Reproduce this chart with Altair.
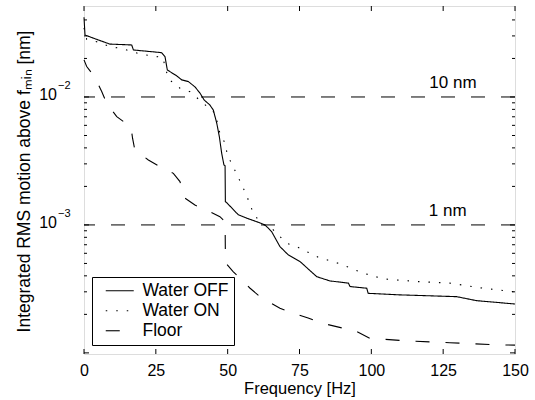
import altair as alt
import pandas as pd

# ---- data ----
off_f = [0, 0.35, 4.4, 9.0, 16.6, 17.2, 27.0, 28.2, 29.0, 32.3, 34.0, 36.3, 38.6, 40.4, 41.8,
         43.8, 45.0, 46.2, 47.1, 47.9, 48.7, 49.1, 49.2, 49.7, 53.7, 56.6, 60.1, 63.0, 65.3,
         68.2, 71.1, 75.2, 81.0, 85.6, 92.0, 92.6, 98.4, 98.9, 110.0, 129.7, 136.6, 150.0]
off_v = [0.0420, 0.0305, 0.0282, 0.0259, 0.0255, 0.0233, 0.0222, 0.0206, 0.01626, 0.0146,
         0.0136, 0.0132, 0.0120, 0.0107, 0.00948, 0.00866, 0.00791, 0.00624, 0.00490, 0.00365,
         0.00294, 0.00290, 0.00152, 0.00149, 0.00120, 0.00113, 0.00106, 0.00100, 0.000887,
         0.000677, 0.000583, 0.000517, 0.000394, 0.000365, 0.000351, 0.000330, 0.000320,
         0.000292, 0.000284, 0.000275, 0.000256, 0.000241]

on_f = [0, 0.94, 5.6, 9.0, 12.8, 19.5, 23.6, 27.4, 29.3, 30.5, 33.4, 36.9, 39.8, 45.6, 47.3,
        49.1, 49.9, 51.6, 53.3, 54.9, 56.6, 57.8, 59.5, 61.9, 65.3, 68.2, 70.5, 74.0, 81.5,
        89.1, 97.2, 104.1, 115.8, 127.3, 138.9, 150.0]
on_v = [0.0346, 0.0282, 0.0266, 0.0247, 0.0240, 0.0217, 0.0209, 0.0204, 0.0140, 0.0132,
        0.0117, 0.0110, 0.00964, 0.00746, 0.00520, 0.00435, 0.00352, 0.00294, 0.00246,
        0.00205, 0.00171, 0.00142, 0.00118, 0.00102, 0.000942, 0.000810, 0.000720,
        0.000676, 0.000560, 0.000496, 0.000420, 0.000379, 0.000361, 0.000351, 0.000320,
        0.000300]

floor_f = [0, 0.94, 3.8, 6.2, 7.9, 11.4, 15.4, 16.4, 16.9, 17.7, 22.4, 26.4, 31.1, 33.4, 35.1,
           38.6, 43.8, 47.3, 49.1, 49.2, 49.4, 51.9, 57.8, 61.2, 68.2, 72.8, 78.0, 82.7, 94.9,
           99.5, 112.3, 127.3, 144.7, 150.0]
floor_v = [0.0195, 0.0173, 0.01425, 0.0110, 0.00893, 0.00702, 0.00604, 0.00573, 0.00476,
           0.00385, 0.00322, 0.00285, 0.00253, 0.00218, 0.00162, 0.00143, 0.00127, 0.00116,
           0.00106, 0.000604, 0.000502, 0.000432, 0.000320, 0.000275, 0.000223, 0.000204,
           0.000187, 0.000171, 0.000147, 0.000130, 0.000124, 0.000120, 0.0001155, 0.000115]

series = ["Water OFF", "Water ON", "Floor"]
ref_values = [0.01, 0.001]
ref_labels = ["10 nm", "1 nm"]
ref_label_f = [128.4, 126.6]
ylab_values = [0.01, 0.001]
ylab_exps = ["\u22122", "\u22123"]
x_ticks = [0, 25, 50, 75, 100, 125, 150]
y_major = [1e-4, 1e-3, 1e-2]
y_minor = [m * 10.0 ** e for e in (-4, -3, -2) for m in range(2, 10) if m * 10.0 ** e < 0.05]

# ---- tables ----
rows = []
for name, fs, vs in [("Water OFF", off_f, off_v), ("Water ON", on_f, on_v), ("Floor", floor_f, floor_v)]:
    for i, (f, v) in enumerate(zip(fs, vs)):
        rows.append({"f": f, "v": v, "s": name, "o": i})
df = pd.DataFrame(rows)
ref_df = pd.DataFrame({"f": ref_label_f, "v": ref_values, "lab": ref_labels})
ylab_df = pd.DataFrame({"v": ylab_values, "e": ylab_exps})
xt_df = pd.DataFrame({"f": x_ticks})
ymaj_df = pd.DataFrame({"v": y_major})
ymin_df = pd.DataFrame({"v": y_minor})

FONT = "Liberation Sans"
W, H = 431, 348
YTITLE = "Integrated RMS motion above f\u2098\u1d62\u2099 [nm]"
XTITLE = "Frequency [Hz]"
xs = alt.Scale(domain=[0, 150], nice=False, zero=False)
ys = alt.Scale(type="log", domain=[0.98e-4, 0.0514], nice=False)

xaxis = alt.Axis(
    title=XTITLE, values=x_ticks, format="d", ticks=False, domain=False, grid=False,
    labelFontSize=16, labelFont=FONT, labelColor="black", labelPadding=8, labelFlush=False,
    titleFontSize=16.5, titleFont=FONT, titleFontWeight="normal", titleColor="black",
    titleY=39, titleBaseline="alphabetic")
yaxis = alt.Axis(
    title=YTITLE, labels=False, ticks=False,
    domain=False, grid=False, titleFontSize=17.5, titleFont=FONT, titleFontWeight="normal",
    titleColor="black", titleX=-55, titleY=175, titleAngle=270, titleAlign="center",
    titleBaseline="alphabetic")

X = lambda: alt.X("f:Q", scale=xs, axis=xaxis, title=XTITLE)
Y = lambda: alt.Y("v:Q", scale=ys, axis=yaxis, title=YTITLE)

lines = alt.Chart(df).mark_line(color="black", strokeWidth=1.1).encode(
    x=X(), y=Y(),
    strokeDash=alt.StrokeDash("s:N", scale=alt.Scale(domain=series, range=[[1, 0], [1.5, 9], [14, 16]]),
                              legend=alt.Legend(title=None, orient="none", legendX=8, legendY=271,
                                                symbolType="M-2.8,0L2.8,0", symbolSize=100,
                                                symbolOffset=14,
                                                symbolStrokeColor="black", symbolStrokeWidth=1.1,
                                                labelFontSize=17.5, labelFont=FONT, labelColor="black",
                                                labelOffset=14, rowPadding=1, padding=5,
                                                strokeColor="black", fillColor="white")),
    order="o:Q",
)

hrules = alt.Chart(ref_df).mark_rule(color="black", strokeWidth=1, strokeDash=[14, 16]).encode(y=Y())

hlabels = alt.Chart(ref_df).mark_text(fontSize=17, font=FONT, color="black", baseline="middle",
                                      align="center", dy=-14).encode(x=X(), y=Y(), text="lab:N")

ylab_base = alt.Chart(ylab_df).mark_text(fontSize=16, font=FONT, color="black", align="right",
                                         baseline="alphabetic", dy=3).encode(
    x=alt.value(-27), y=Y(), text=alt.value("10"))
ylab_exp = alt.Chart(ylab_df).mark_text(fontSize=11, font=FONT, color="black", align="left",
                                        baseline="alphabetic", dy=-8).encode(
    x=alt.value(-26), y=Y(), text="e:N")

xt_bot = alt.Chart(xt_df).mark_rule(color="black", strokeWidth=1).encode(
    x=X(), y=alt.value(H), y2=alt.value(H - 5))
xt_top = alt.Chart(xt_df).mark_rule(color="black", strokeWidth=1).encode(
    x=X(), y=alt.value(0), y2=alt.value(5))
yt_maj_l = alt.Chart(ymaj_df).mark_rule(color="black", strokeWidth=1).encode(
    y=Y(), x=alt.value(0), x2=alt.value(5))
yt_maj_r = alt.Chart(ymaj_df).mark_rule(color="black", strokeWidth=1).encode(
    y=Y(), x=alt.value(W), x2=alt.value(W - 5))
yt_min_l = alt.Chart(ymin_df).mark_rule(color="black", strokeWidth=1).encode(
    y=Y(), x=alt.value(0), x2=alt.value(3))
yt_min_r = alt.Chart(ymin_df).mark_rule(color="black", strokeWidth=1).encode(
    y=Y(), x=alt.value(W), x2=alt.value(W - 3))

chart = alt.layer(
    lines, hrules, hlabels, ylab_base, ylab_exp,
    xt_bot, xt_top, yt_maj_l, yt_maj_r, yt_min_l, yt_min_r,
).properties(
    width=W, height=H,
    autosize=alt.AutoSizeParams(type="none"),
    padding={"left": 84, "top": 6, "right": 20, "bottom": 46},
).configure_view(stroke="black", strokeWidth=1.2).configure(background="white")

chart.save("out.html", embed_options={"renderer": "svg", "actions": False})
